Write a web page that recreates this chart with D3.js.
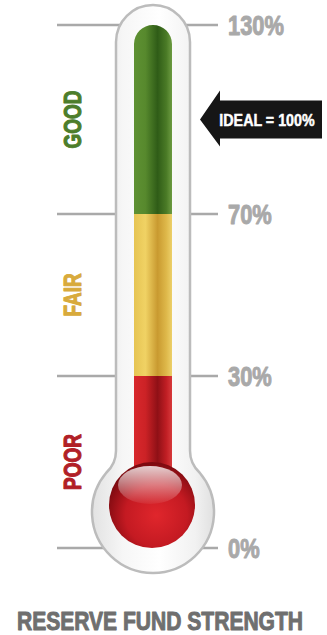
<!DOCTYPE html>
<html>
<head>
<meta charset="utf-8">
<script src="https://cdn.jsdelivr.net/npm/d3@7"></script>
<style>
  html, body { margin: 0; padding: 0; background: #fff; }
  svg { display: block; }
  text { font-family: "Liberation Sans", Arial, sans-serif; font-weight: bold; }
</style>
</head>
<body>
<div id="chart"></div>
<script>
const width = 327, height = 635;

// data
const tickValues = [0, 30, 70, 130];
const tickLabels = ['0%', '30%', '70%', '130%'];
const zoneNames = ['POOR', 'FAIR', 'GOOD'];
const zoneFrom = [0, 30, 70];
const zoneTo = [30, 70, 130];
const zoneColors = ['#b11f27', '#d8aa3c', '#4d7d2b'];
const idealValue = 100;
const idealLabel = 'IDEAL = 100%';
const title = 'RESERVE FUND STRENGTH';

// piecewise scale: the graphic is not linear between ticks
const y = d3.scaleLinear()
  .domain(tickValues)
  .range([548, 376, 214, 25]);

const narrow = 0.81;     // squeeze to mimic a condensed face
const cx = 153;          // tube centre
const outerHalf = 37;    // glass half width
const innerHalf = 19;    // liquid half width
const bulb = {cx: 153, cy: 512, r: 61};
const ball = {cx: 152, cy: 505, r: 43};

const svg = d3.select('#chart').append('svg')
  .attr('width', width)
  .attr('height', height);

const defs = svg.append('defs');

function hGrad(id, stops) {
  const g = defs.append('linearGradient').attr('id', id)
    .attr('x1', 0).attr('x2', 1).attr('y1', 0).attr('y2', 0);
  stops.forEach(s => g.append('stop').attr('offset', s[0]).attr('stop-color', s[1]));
}
hGrad('glass', [[0, '#e2e2e2'], [0.25, '#f6f6f6'], [0.55, '#ffffff'], [0.85, '#f1f1f1'], [1, '#e0e0e0']]);
hGrad('g-GOOD', [[0, '#5e9133'], [0.3, '#57892d'], [0.62, '#2f5c17'], [0.85, '#4a7a26'], [1, '#6d9c42']]);
hGrad('g-FAIR', [[0, '#e6c453'], [0.3, '#f0d264'], [0.62, '#c99a30'], [0.85, '#deb84a'], [1, '#ecd06a']]);
hGrad('g-POOR', [[0, '#d8282c'], [0.3, '#cc2226'], [0.62, '#8f1016'], [0.85, '#c01e24'], [1, '#d83a3c']]);

const ballGrad = defs.append('radialGradient').attr('id', 'ball')
  .attr('cx', 0.55).attr('cy', 0.62).attr('r', 0.6);
ballGrad.append('stop').attr('offset', 0).attr('stop-color', '#e0262c');
ballGrad.append('stop').attr('offset', 0.6).attr('stop-color', '#c41a22');
ballGrad.append('stop').attr('offset', 1).attr('stop-color', '#7e0a10');

const shine = defs.append('linearGradient').attr('id', 'shine')
  .attr('x1', 0).attr('x2', 0).attr('y1', 0).attr('y2', 1);
shine.append('stop').attr('offset', 0).attr('stop-color', '#fff').attr('stop-opacity', 0.8);
shine.append('stop').attr('offset', 1).attr('stop-color', '#fff').attr('stop-opacity', 0.05);

// heavier type: fill plus a thin stroke in the same colour
function heavy(sel, color, w) {
  sel.attr('fill', color).attr('stroke', color).attr('stroke-width', w)
    .attr('stroke-linejoin', 'round');
}

// tick lines, drawn behind the glass
svg.append('g').selectAll('line')
  .data(tickValues)
  .join('line')
  .attr('x1', 57).attr('x2', 218)
  .attr('y1', d => y(d)).attr('y2', d => y(d))
  .attr('stroke', '#a9a9a9')
  .attr('stroke-width', 2.5);

svg.append('g').selectAll('text')
  .data(tickValues)
  .join('text')
  .attr('transform', d => `translate(228,${y(d)}) scale(${narrow},1)`)
  .attr('dy', '0.36em')
  .attr('font-size', 27)
  .call(heavy, '#a9a9a9', 1)
  .text((d, i) => tickLabels[i]);

// glass outline: rounded tube joined to the bulb
const glassTop = y(130) - 20;
const L = cx - outerHalf, R = cx + outerHalf;
const a = 50 * Math.PI / 180;
const px = bulb.cx + bulb.r * Math.sin(a), py = bulb.cy - bulb.r * Math.cos(a);
const glassPath = d3.path();
glassPath.moveTo(L, glassTop + outerHalf);
glassPath.arc(cx, glassTop + outerHalf, outerHalf, Math.PI, 0);
glassPath.lineTo(R, py - 22);
glassPath.quadraticCurveTo(R, py - 9, px, py);
glassPath.arc(bulb.cx, bulb.cy, bulb.r, -Math.PI / 2 + a, Math.PI * 1.5 - a);
glassPath.quadraticCurveTo(L, py - 9, L, py - 22);
glassPath.closePath();

svg.append('path')
  .attr('d', glassPath.toString())
  .attr('fill', 'url(#glass)')
  .attr('stroke', '#bcbcbc')
  .attr('stroke-width', 2.5);

// liquid segments
const liquid = svg.append('g');
zoneNames.forEach((name, i) => {
  const y0 = y(zoneTo[i]), y1 = i === 0 ? ball.cy : y(zoneFrom[i]);
  if (i === zoneNames.length - 1) {
    const p = d3.path();
    p.moveTo(cx - innerHalf, y1);
    p.lineTo(cx - innerHalf, y0 + innerHalf);
    p.arc(cx, y0 + innerHalf, innerHalf, Math.PI, 0);
    p.lineTo(cx + innerHalf, y1);
    p.closePath();
    liquid.append('path').attr('d', p.toString()).attr('fill', `url(#g-${name})`);
  } else {
    liquid.append('rect')
      .attr('x', cx - innerHalf).attr('width', innerHalf * 2)
      .attr('y', y0).attr('height', y1 - y0)
      .attr('fill', `url(#g-${name})`);
  }
});

// bulb
liquid.append('circle')
  .attr('cx', ball.cx).attr('cy', ball.cy).attr('r', ball.r)
  .attr('fill', 'url(#ball)');
liquid.append('ellipse')
  .attr('cx', ball.cx - 2).attr('cy', ball.cy - 20)
  .attr('rx', 32).attr('ry', 19)
  .attr('fill', 'url(#shine)');

// zone labels
svg.append('g').selectAll('text')
  .data(zoneNames)
  .join('text')
  .attr('transform', (d, i) =>
    `translate(72,${(y(zoneFrom[i]) + y(zoneTo[i])) / 2}) rotate(-90) scale(${narrow - 0.02},1)`)
  .attr('text-anchor', 'middle')
  .attr('dy', '0.36em')
  .attr('font-size', 24)
  .each(function(d, i) { d3.select(this).call(heavy, zoneColors[i], 1.1); })
  .text(d => d);

// ideal arrow
const iy = y(idealValue);
svg.append('path')
  .attr('d', d3.line()([
    [200, iy], [220, iy - 29], [220, iy - 19], [322, iy - 19],
    [322, iy + 19], [220, iy + 19], [220, iy + 27]
  ]) + 'Z')
  .attr('fill', '#161616');
svg.append('text')
  .attr('transform', `translate(267,${iy}) scale(${narrow + 0.03},1)`)
  .attr('dy', '0.36em')
  .attr('text-anchor', 'middle')
  .attr('font-size', 17)
  .call(heavy, '#fff', 0.5)
  .text(idealLabel);

// title
svg.append('text')
  .attr('transform', `translate(160,630) scale(${narrow},1)`)
  .attr('text-anchor', 'middle')
  .attr('font-size', 26)
  .call(heavy, '#6f6f6f', 1)
  .text(title);
</script>
</body>
</html>
